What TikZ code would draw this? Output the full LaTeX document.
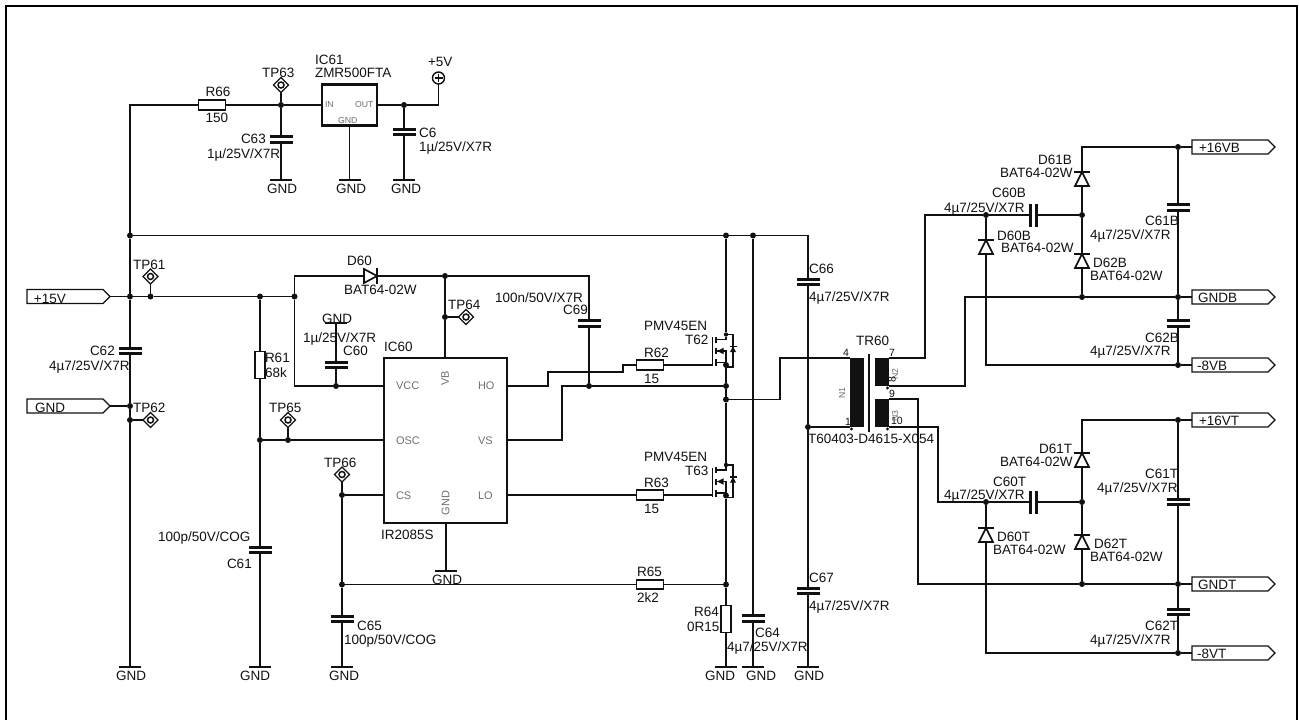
\documentclass[tikz,border=0pt]{standalone}
\usepackage{fontspec}
\setmainfont{Liberation Sans}
\usetikzlibrary{shapes.geometric,shapes.symbols,calc}
\definecolor{ink}{HTML}{111111}
\definecolor{pin}{HTML}{6E6E6E}
\newcounter{lblc}
\tikzset{
  wire/.style={draw=ink,line width=1.4pt},
  lbl/.style={anchor=base west,inner sep=0pt,outer sep=0pt,text=ink,font=\fontsize{13.5}{14}\selectfont},
  pintext/.style={lbl,text=pin,font=\fontsize{11}{12}\selectfont},
  tinypin/.style={lbl,text=pin,font=\fontsize{8.7}{10}\selectfont},
  rotpin/.style={pintext,anchor=center,rotate=90},
  jdot/.style={circle,fill=ink,inner sep=0pt,outer sep=0pt,minimum size=6pt},
  sdot/.style={circle,fill=ink,inner sep=0pt,outer sep=0pt,minimum size=3.2pt},
  resh/.style={rectangle,draw=ink,line width=1.9pt,inner sep=0pt,outer sep=0pt,minimum width=27pt,minimum height=9.5pt},
  resv/.style={rectangle,draw=ink,line width=1.9pt,inner sep=0pt,outer sep=0pt,minimum width=9.5pt,minimum height=27pt},
  capv/.style={rectangle,inner sep=0pt,outer sep=0pt,minimum width=23pt,minimum height=8.8pt},
  caph/.style={rectangle,inner sep=0pt,outer sep=0pt,minimum width=8.8pt,minimum height=23pt},
  plate/.style={fill=ink},
  dbox/.style={rectangle,inner sep=0pt,outer sep=0pt,minimum width=14pt,minimum height=14pt},
  dio/.style={draw=ink,line width=1.7pt,line join=miter},
  gbar/.style={rectangle,fill=ink,inner sep=0pt,outer sep=0pt,minimum width=22pt,minimum height=1.8pt},
  icbox/.style={rectangle,draw=ink,line width=2.4pt,inner sep=0pt,outer sep=0pt},
  tag/.style={signal,signal to=east,signal from=nowhere,signal pointer angle=90,draw=ink,line width=1.2pt,inner sep=0pt,outer sep=0pt,minimum width=83pt,minimum height=14pt},
  tpd/.style={diamond,aspect=1,draw=ink,line width=1.3pt,inner sep=0pt,outer sep=0pt,minimum size=15pt},
  tpc/.style={circle,draw=ink,line width=1.5pt,inner sep=0pt,outer sep=0pt,minimum size=6pt},
  coil/.style={rectangle,fill=ink,inner sep=0pt,outer sep=0pt},
}
\newcommand{\txt}[4][]{\stepcounter{lblc}\node[lbl,#1] (l\arabic{lblc}) at (#2,#3) {#4};}
\newcommand{\dotn}[3]{\node[jdot] (#1) at (#2,#3) {};}
\newcommand{\cn}[3]{\coordinate (#1) at (#2,#3);}
\newcommand{\capv}[3]{\node[capv] (#1) at (#2,#3) {};
  \fill[plate] (#1.north west) rectangle ([yshift=-3pt]#1.north east);
  \fill[plate] (#1.south west) rectangle ([yshift=3pt]#1.south east);}
\newcommand{\caph}[3]{\node[caph] (#1) at (#2,#3) {};
  \fill[plate] (#1.north west) rectangle ([xshift=3pt]#1.south west);
  \fill[plate] (#1.north east) rectangle ([xshift=-3pt]#1.south east);}
\newcommand{\diodeup}[3]{\node[dbox] (#1) at ({#2},{#3+7}) {};
  \draw[dio,fill=white] (#1.south west) -- (#1.south east) -- (#1.north) -- cycle;
  \draw[dio] ([xshift=-8pt]#1.north) -- ([xshift=8pt]#1.north);}
\newcommand{\gndsym}[4]{\node[gbar] (#1) at (#2,#3) {};\txt{#4}{{#3+13}}{GND}}
\newcommand{\tp}[3]{\node[tpd] (#1) at (#2,#3) {};\node[tpc] (#1c) at (#2,#3) {};}
\newcommand{\mosfet}[2]{%
  \begin{scope}[shift={(0,#2)}]
    \node[jdot,minimum size=4.4pt] (#1d) at (726,334.5) {};
    \node[jdot] (#1s) at (726,365) {};
    \node[coil,minimum width=1.6pt,minimum height=29pt] (#1g) at (712.6,351.5) {};
    \node[coil,minimum width=2.6pt,minimum height=6pt] (#1a) at (715.8,339.5) {};
    \node[coil,minimum width=2.6pt,minimum height=6pt] (#1b) at (715.8,351) {};
    \node[coil,minimum width=2.6pt,minimum height=7pt] (#1c) at (715.8,362.5) {};
    \draw[wire] (#1a.east) -- (#1a.east -| #1d) -- (#1d);
    \draw[wire] (#1s) -- (#1s |- #1b) -- (#1b.east);
    \draw[wire] (#1c.east) -- (#1c.east -| #1s);
    \fill[ink] (#1b.east) -- ++(6.5,-3.2) -- ++(0,6.4) -- cycle;
    \coordinate (#1r) at (733,334.5);
    \coordinate (#1q) at (733,367);
    \coordinate (#1p) at (726,367);
    \draw[wire] (#1d) -- (#1r) -- (#1q) -- (#1p);
    \fill[ink] (733,346.5) -- (736,352) -- (730,352) -- cycle;
    \draw[line width=1.4pt,draw=ink] (729.5,346.5) -- (736.5,346.5);
  \end{scope}}
\begin{document}
\begin{tikzpicture}[x=1pt,y=-1pt]
\useasboundingbox (0,0) rectangle (1299,720);
\draw[draw=black,line width=2.2pt] (6,720) -- (6,6) -- (1297,6) -- (1297,720);

% --- junctions and corners
\cn{c130}{130}{105}
\dotn{jA}{130}{235.5}\dotn{jB}{726}{235.5}\dotn{jC}{753}{235.5}\cn{cR}{808}{235.5}
\dotn{j15}{130}{296.5}\dotn{jT61}{150.5}{296.5}\dotn{j260}{260}{296.5}\dotn{j294}{294.5}{296.5}
\cn{c294t}{294.5}{276}\dotn{jVB}{445}{276}\cn{c589t}{589}{276}
\dotn{jT64}{445}{317}
\cn{c294b}{294.5}{386}\dotn{jVCC}{336}{386}
\dotn{j589}{589}{386}\dotn{j726a}{726}{386}\dotn{j726b}{726}{399.5}
\dotn{jGND}{130}{406}\dotn{jT62}{130}{420}
\dotn{j260b}{260}{440}\dotn{jT65}{288}{440}
\dotn{jCS}{342}{495}\dotn{jR65}{342}{584.5}\dotn{j726c}{726}{584.5}
\dotn{jT63}{281}{105}\dotn{jOut}{404}{105}\cn{c5}{438.5}{105}
\dotn{j808}{808}{427}
\cn{cHa}{548}{386}\cn{cHb}{548}{372}\cn{cHc}{623}{372}\cn{cHd}{623}{365}
\cn{cVa}{562}{440}\cn{cVb}{562}{386}
\cn{cXa}{780}{399.5}\cn{cXb}{780}{358}
\cn{c7a}{925}{358}\cn{c7b}{925}{215}
\cn{c8a}{965}{386}\cn{c8b}{965}{297}
\cn{c9a}{918}{399}\cn{c9b}{918}{584}
\cn{c10a}{938}{427}\cn{c10b}{938}{502}
\dotn{b986}{986}{215}\dotn{b1082}{1082}{215}\dotn{bG}{1082}{297}
\cn{b1082t}{1082}{147}\dotn{bR1}{1178}{147}\dotn{bR2}{1178}{297}\dotn{bR3}{1178}{365}\cn{b986b}{986}{365}
\dotn{t986}{986}{502}\dotn{t1082}{1082}{502}\dotn{tG}{1082}{584}
\cn{t1082t}{1082}{420}\dotn{tR1}{1178}{420}\dotn{tR2}{1178}{584}\dotn{tR3}{1178}{653}\cn{t986b}{986}{653}

% --- tags
\node[tag] (t15) at (65,296.5) {};
\node[tag] (tGND) at (65,406) {};
\node[tag] (t16B) at (1230,147) {};
\node[tag] (tGB) at (1230,297) {};
\node[tag] (t8B) at (1230,365) {};
\node[tag] (t16T) at (1230,420) {};
\node[tag] (tGT) at (1230,584) {};
\node[tag] (t8T) at (1230,653) {};

% --- ICs
\node[icbox,minimum width=55pt,minimum height=41pt] (ic61) at (349.3,105) {};
\node[icbox,minimum width=123pt,minimum height=165pt] (ic60) at (445.5,440.5) {};

% --- resistors
\node[resh] (r66) at (212,105) {};
\node[resv] (r61) at (260,365) {};
\node[resh] (r62) at (650,365) {};
\node[resh] (r63) at (650,495) {};
\node[resh] (r65) at (650,584.5) {};
\node[resv] (r64) at (726,619) {};

% --- capacitors
\capv{c63}{281}{139.5}\capv{c6}{404}{132}\capv{c62}{130}{351}\capv{c60}{336}{365}
\capv{c69}{589}{323.5}\capv{c66}{808}{282}\capv{c67}{808}{591}\capv{c64}{753}{618.5}
\capv{c61}{260}{550}\capv{c65}{342}{619}
\capv{c61b}{1178}{207.5}\capv{c62b}{1178}{323.5}\capv{c61t}{1178}{502}\capv{c62t}{1178}{612}
\caph{c60b}{1033.5}{215}\caph{c60t}{1033.5}{502}

% --- diodes
\node[dbox,minimum width=13pt] (d60) at (370.5,276) {};
\draw[dio,fill=white] (d60.north west) -- (d60.south west) -- (d60.east) -- cycle;
\draw[dio] ([yshift=8pt]d60.east) -- ([yshift=-8pt]d60.east);
\diodeup{d61b}{1082}{172}\diodeup{d60b}{986}{240}\diodeup{d62b}{1082}{254}
\diodeup{d61t}{1082}{453}\diodeup{d60t}{986}{528}\diodeup{d62t}{1082}{535}

% --- test points
\tp{tp63}{281}{85}\tp{tp61}{150.5}{276.5}\tp{tp62}{150.5}{420}\tp{tp65}{288}{420}\tp{tp66}{342}{474.5}\tp{tp64}{466}{317}

% --- +5V
\node[circle,draw=ink,line width=1.4pt,inner sep=0pt,outer sep=0pt,minimum size=12pt] (p5) at (438.5,78) {};
\draw[ink,line width=1.2pt] ([xshift=-4pt]p5.center) -- ([xshift=4pt]p5.center) ([yshift=-4pt]p5.center) -- ([yshift=4pt]p5.center);

% --- transformer
\node[coil,minimum width=14pt,minimum height=69pt] (n1) at (857,392.5) {};
\node[coil,minimum width=14pt,minimum height=28pt] (n2) at (882,372) {};
\node[coil,minimum width=14pt,minimum height=28pt] (n3) at (882,413) {};
\node[coil,minimum width=1.9pt,minimum height=78pt] (core) at (869.3,393) {};
\node[sdot] (pa) at (851.5,429) {};\node[sdot] (pb) at (887.5,429) {};\node[sdot] (pc) at (887.5,388) {};

% --- MOSFETs
\mosfet{tt}{0}
\mosfet{uu}{130.5}

% --- GND symbols
\gndsym{g1}{281}{180}{267}
\gndsym{g2}{349.5}{180}{336}
\gndsym{g3}{404}{180}{391}
\gndsym{g4}{130}{667}{116}
\gndsym{g5}{260}{667}{240}
\gndsym{g6}{342}{667}{329}
\gndsym{g7}{726}{667}{705}
\gndsym{g8}{753}{667}{746}
\gndsym{g9}{808}{667}{794}
\node[gbar] (g10) at (336,323) {};
\node[gbar] (g11) at (446,571) {};

% --- wires
\draw[wire] (jA) -- (c130) -- (r66) -- (jT63) -- (ic61) -- (jOut) -- (c5) -- (p5);
\draw[wire] (tp63) -- (jT63) -- (c63) -- (g1);
\draw[wire] (ic61.south -| g2) -- (g2);
\draw[wire] (jOut) -- (c6) -- (g3);
\draw[wire] (jA) -- (jB) -- (jC) -- (cR) -- (c66) -- (j808) -- (c67) -- (g9);
\draw[wire] (jA) -- (j15) -- (c62) -- (jGND) -- (jT62) -- (g4);
\draw[wire] (t15) -- (j15) -- (jT61) -- (j260) -- (j294);
\draw[wire] (tGND) -- (jGND);
\draw[wire] (jT62) -- (tp62);
\draw[wire] (tp61) -- (jT61);
\draw[wire] (j260) -- (r61) -- (j260b) -- (c61) -- (g5);
\draw[wire] (j260b) -- (jT65) -- (ic60.west |- jT65);
\draw[wire] (tp65) -- (jT65);
\draw[wire] (j294) -- (c294t) -- (d60) -- (jVB) -- (c589t) -- (c69) -- (j589) -- (j726a);
\draw[wire] (j294) -- (c294b) -- (jVCC) -- (ic60.west |- jVCC);
\draw[wire] (g10) -- (c60) -- (jVCC);
\draw[wire] (jVB) -- (jT64) -- (ic60.north -| jVB);
\draw[wire] (jT64) -- (tp64);
\draw[wire] (tp66) -- (jCS) -- (jR65) -- (c65) -- (g6);
\draw[wire] (jCS) -- (ic60.west |- jCS);
\draw[wire] (jR65) -- (r65) -- (j726c);
\draw[wire] (ic60.south -| g11) -- (g11);
\draw[wire] (ic60.east |- cHa) -- (cHa) -- (cHb) -- (cHc) -- (cHd) -- (r62) -- (ttg |- r62);
\draw[wire] (ic60.east |- cVa) -- (cVa) -- (cVb) -- (j589);
\draw[wire] (ic60.east |- r63) -- (r63) -- (uug |- r63);
\draw[wire] (jB) -- (ttd);
\draw[wire] (tts) -- (j726a) -- (j726b) -- (uud);
\draw[wire] (uus) -- (j726c) -- (r64) -- (g7);
\draw[wire] (jC) -- (c64) -- (g8);
\draw[wire] (j726b) -- (cXa) -- (cXb) -- (n1.north west);
\draw[wire] (j808) -- (n1.south west);
\draw[wire] (n2.north east) -- (c7a) -- (c7b) -- (b986) -- (c60b) -- (b1082);
\draw[wire] (n2.south east) -- (c8a) -- (c8b) -- (bG) -- (bR2) -- (tGB);
\draw[wire] (n3.north east) -- (c9a) -- (c9b) -- (tG) -- (tR2) -- (tGT);
\draw[wire] (n3.south east) -- (c10a) -- (c10b) -- (t986) -- (c60t) -- (t1082);
\draw[wire] (b1082) -- (d61b);
\draw[wire] (d61b) -- (b1082t) -- (bR1) -- (t16B);
\draw[wire] (b1082) -- (d62b) -- (bG);
\draw[wire] (b986) -- (d60b) -- (b986b) -- (bR3) -- (t8B);
\draw[wire] (bR1) -- (c61b) -- (bR2) -- (c62b) -- (bR3);
\draw[wire] (t1082) -- (d61t) -- (t1082t) -- (tR1) -- (t16T);
\draw[wire] (t1082) -- (d62t) -- (tG);
\draw[wire] (t986) -- (d60t) -- (t986b) -- (tR3) -- (t8T);
\draw[wire] (tR1) -- (c61t) -- (tR2) -- (c62t) -- (tR3);

% --- labels, top
\txt{205.7}{96}{R66}\txt{205.7}{122}{150}
\txt{262}{77}{TP63}\txt{315}{64}{IC61}\txt{315}{77}{ZMR500FTA}\txt{428}{66}{+5V}
\txt{241}{143}{C63}\txt{207}{158}{1µ/25V/X7R}\txt{419}{137}{C6}\txt{419}{151}{1µ/25V/X7R}
\txt[tinypin]{325}{107}{IN}\txt[tinypin]{355}{107}{OUT}\txt[tinypin]{338}{123}{GND}
% left
\txt{133}{269}{TP61}\txt{34}{303}{+15V}\txt{35}{412}{GND}\txt{133}{412}{TP62}
\txt{90}{355}{C62}\txt{49}{370}{4µ7/25V/X7R}
\txt{265}{362}{R61}\txt{265}{377}{68k}\txt{269}{412}{TP65}\txt{324}{467}{TP66}
\txt{158}{541}{100p/50V/COG}\txt{227}{568}{C61}\txt{357}{630}{C65}\txt{344}{644}{100p/50V/COG}
\txt{347}{265}{D60}\txt{344}{294}{BAT64-02W}
\txt{322}{323}{GND}\txt{303}{342}{1µ/25V/X7R}\txt{343}{355}{C60}
\txt{448}{309}{TP64}\txt{384}{351}{IC60}\txt{381}{539}{IR2085S}\txt{432}{584}{GND}
\txt{495}{302}{100n/50V/X7R}\txt{563}{314}{C69}
\txt[pintext]{396}{389}{VCC}\txt[pintext]{396}{444}{OSC}\txt[pintext]{396}{499}{CS}
\txt[pintext]{478}{389}{HO}\txt[pintext]{478}{444}{VS}\txt[pintext]{478}{499}{LO}
\txt[rotpin]{445}{378}{VB}\txt[rotpin]{445.5}{503}{GND}
% MOSFETs and bottom
\txt{644}{330}{PMV45EN}\txt{685}{344}{T62}\txt{644}{357}{R62}\txt{644}{383}{15}
\txt{644}{461}{PMV45EN}\txt{685}{475}{T63}\txt{644}{487}{R63}\txt{644}{513}{15}
\txt{637}{576}{R65}\txt{637}{602}{2k2}\txt{694}{616}{R64}\txt{687}{631}{0R15}
\txt{755}{637}{C64}\txt{727}{651}{4µ7/25V/X7R}
\txt{809}{273}{C66}\txt{809}{301}{4µ7/25V/X7R}\txt{809}{582}{C67}\txt{809}{610}{4µ7/25V/X7R}
% transformer
\txt{856}{345}{TR60}\txt{808}{443}{T60403-D4615-X054}
\txt[tinypin,text=ink,font=\fontsize{10.5}{12}\selectfont]{843}{356}{4}
\txt[tinypin,text=ink,font=\fontsize{10.5}{12}\selectfont]{889}{356}{7}
\txt[tinypin,text=ink,font=\fontsize{10.5}{12}\selectfont]{845}{425}{1}
\txt[tinypin,text=ink,font=\fontsize{10.5}{12}\selectfont]{889}{397}{9}
\txt[tinypin,text=ink,font=\fontsize{10.5}{12}\selectfont]{891}{424}{10}
\txt[tinypin,anchor=center,rotate=90]{842}{393}{N1}
\txt[tinypin,anchor=center,rotate=90]{895}{374}{N2}
\txt[tinypin,anchor=center,rotate=90]{895}{416}{N3}
\txt[tinypin,text=ink,font=\fontsize{10.5}{12}\selectfont,anchor=center,rotate=90]{892}{380}{8}
% right, upper
\txt{1038}{164}{D61B}\txt{1000}{177}{BAT64-02W}\txt{992}{197}{C60B}\txt{944}{212}{4µ7/25V/X7R}
\txt{997}{240}{D60B}\txt{1001}{252}{BAT64-02W}\txt{1145}{225}{C61B}\txt{1090}{239}{4µ7/25V/X7R}
\txt{1093}{267}{D62B}\txt{1090}{280}{BAT64-02W}\txt{1145}{342}{C62B}\txt{1090}{355}{4µ7/25V/X7R}
\txt{1199}{152}{+16VB}\txt{1198}{302}{GNDB}\txt{1197}{370}{-8VB}
% right, lower
\txt{1039}{453}{D61T}\txt{1000}{466}{BAT64-02W}\txt{993}{486}{C60T}\txt{944}{499}{4µ7/25V/X7R}
\txt{997}{541}{D60T}\txt{993}{554}{BAT64-02W}\txt{1145}{478}{C61T}\txt{1097}{492}{4µ7/25V/X7R}
\txt{1094}{548}{D62T}\txt{1090}{561}{BAT64-02W}\txt{1145}{630}{C62T}\txt{1090}{644}{4µ7/25V/X7R}
\txt{1199}{425}{+16VT}\txt{1198}{589}{GNDT}\txt{1197}{658}{-8VT}
\end{tikzpicture}
\end{document}
